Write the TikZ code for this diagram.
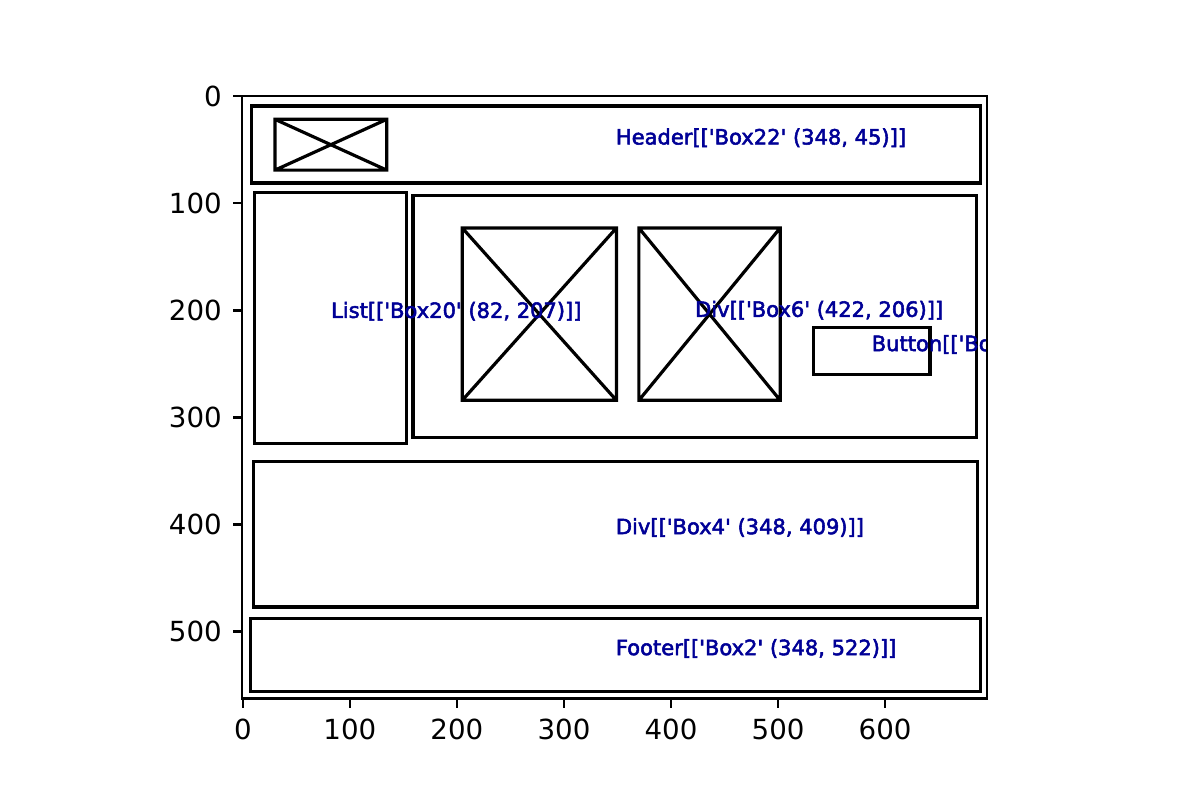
\documentclass[tikz,border=0pt]{standalone}
\usepackage{fontspec}
\setmainfont{DejaVu Sans}
\newfontfamily\boxfont[FakeBold=2.5]{DejaVu Sans}
\definecolor{labelblue}{RGB}{0,0,150}
\newcommand{\sq}{\textquotesingle}
\newcommand{\crossbox}[4]{\draw[wire] (#1,#2) rectangle (#3,#4) (#1,#2) -- (#3,#4) (#1,#4) -- (#3,#2);}
\tikzset{wire/.style={black,line width=1.15pt}, spine/.style={black,line width=0.8pt},
  boxlabel/.style={anchor=base west, inner sep=0pt, text=labelblue, font=\boxfont\fontsize{7.6}{9}\selectfont},
  ticklabel/.style={inner sep=0pt, font=\fontsize{10}{12}\selectfont}}

\begin{document}
\begin{tikzpicture}
  \useasboundingbox (0,0) rectangle (15.24,10.16);
  \begin{scope}[shift={(3.0836,8.9370)},x=0.0136cm,y=-0.0136cm]
   % page boxes
   \draw[wire] (8,9) rectangle (689,81);
   \crossbox{30}{21.5}{134.5}{69}
   \draw[wire] (11,90) rectangle (153,324);
   \draw[wire] (159,93) rectangle (685,319);
   \crossbox{205}{123}{349}{284}
   \crossbox{370}{123}{502}{284}
   \draw[wire] (533,216) rectangle (642,260);
   \draw[wire] (10,341) rectangle (686,477);
   \draw[wire] (7,488) rectangle (689,556);
   % labels, cut at the frame
   \begin{scope}
    \clip (-0.5,-0.5) rectangle (695.5,562.5);
    \node[boxlabel] (header) at (348,45) {Header[[\sq Box22\sq{} (348, 45)]]};
    \node[boxlabel] (list) at (82,207) {List[[\sq Box20\sq{} (82, 207)]]};
    \node[boxlabel] (div6) at (422,206) {Div[[\sq Box6\sq{} (422, 206)]]};
    \node[boxlabel] (button) at (587,238) {Button[[\sq Box8\sq{} (587, 238)]]};
    \node[boxlabel] (div4) at (348,409) {Div[[\sq Box4\sq{} (348, 409)]]};
    \node[boxlabel] (footer) at (348,522) {Footer[[\sq Box2\sq{} (348, 522)]]};
   \end{scope}
   % frame and ticks
   \draw[spine] (-0.5,-0.5) rectangle (695.5,562.5);
   \foreach \u in {0,100,...,600}
     \draw[spine] (\u,562.5) -- ++(0,-3.5pt) node[ticklabel,below=3.5pt] (x\u) {\u};
   \foreach \v in {0,100,...,500}
     \draw[spine] (-0.5,\v) -- ++(-3.5pt,0) node[ticklabel,left=3.5pt] (y\v) {\v};
  \end{scope}
\end{tikzpicture}
\end{document}
